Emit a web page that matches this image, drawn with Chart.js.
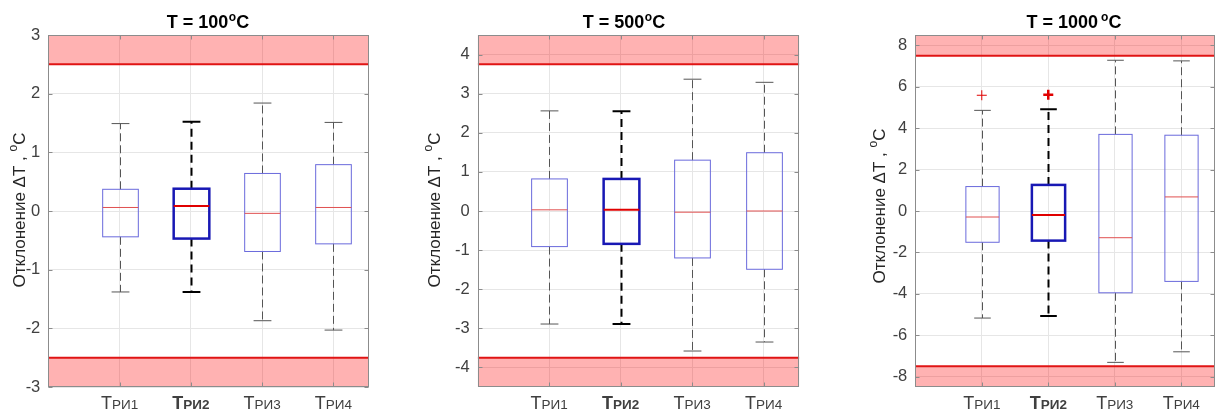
<!DOCTYPE html>
<html>
<head>
<meta charset="utf-8">
<script src="https://cdn.jsdelivr.net/npm/chart.js@4.4.1/dist/chart.umd.min.js"></script>
<style>
  html, body { margin: 0; padding: 0; background: #fff; }
  #wrap { position: relative; width: 1222px; height: 412px; overflow: hidden; }
  #wrap canvas { position: absolute; top: 0; }
</style>
</head>
<body>
<div id="wrap">
  <canvas id="c100" width="405" height="412" style="left:0px"></canvas>
  <canvas id="c500" width="405" height="412" style="left:405px"></canvas>
  <canvas id="c1000" width="412" height="412" style="left:810px"></canvas>
</div>
<script>
// ============================================
// Box plots of ΔT deviation for three temperatures
// ============================================

const categories = ['РИ1', 'РИ2', 'РИ3', 'РИ4'];
const temps = [100, 500, 1000];

// y axis ranges, tick values and tolerance limits (±)
const yMin = [-3, -4.5, -8.5];
const yMax = [3, 4.5, 8.5];
const ticks100 = [-3, -2, -1, 0, 1, 2, 3];
const ticks500 = [-4, -3, -2, -1, 0, 1, 2, 3, 4];
const ticks1000 = [-8, -6, -4, -2, 0, 2, 4, 6, 8];
const limits = [2.5, 3.75, 7.5];

// T = 100
const low100 = [-1.38, -1.38, -1.87, -2.03];
const q1_100 = [-0.44, -0.47, -0.69, -0.56];
const med100 = [0.06, 0.085, -0.04, 0.06];
const q3_100 = [0.37, 0.38, 0.64, 0.79];
const high100 = [1.49, 1.52, 1.84, 1.51];
const out100 = [null, null, null, null];

// T = 500
const low500 = [-2.89, -2.89, -3.58, -3.35];
const q1_500 = [-0.91, -0.84, -1.20, -1.49];
const med500 = [0.03, 0.03, -0.03, 0.0];
const q3_500 = [0.82, 0.82, 1.30, 1.49];
const high500 = [2.56, 2.55, 3.37, 3.29];
const out500 = [null, null, null, null];

// T = 1000
const low1000 = [-5.17, -5.07, -7.31, -6.80];
const q1_1000 = [-1.51, -1.43, -3.95, -3.40];
const med1000 = [-0.29, -0.19, -1.29, 0.68];
const q3_1000 = [1.18, 1.26, 3.70, 3.66];
const high1000 = [4.86, 4.91, 7.28, 7.25];
const out1000 = [5.59, 5.62, null, null];

const stats = [
  { low: low100, q1: q1_100, med: med100, q3: q3_100, high: high100, out: out100, ticks: ticks100 },
  { low: low500, q1: q1_500, med: med500, q3: q3_500, high: high500, out: out500, ticks: ticks500 },
  { low: low1000, q1: q1_1000, med: med1000, q3: q3_1000, high: high1000, out: out1000, ticks: ticks1000 }
];

// layout of each panel (canvas-relative pixels)
const frames = [
  { id: 'c100', w: 405, left: 48.3, right: 369, titleX: 208, yTitleX: 19, yTitleY: 210 },
  { id: 'c500', w: 405, left: 72.7, right: 394.3, titleX: 219, yTitleX: 29, yTitleY: 210 },
  { id: 'c1000', w: 412, left: 105.3, right: 407.3, titleX: 264, yTitleX: 69, yTitleY: 206 }
];
const TOP = 35, BOTTOM = 387, H = 412;
const FONT = '"Liberation Sans", Arial, sans-serif';
const BOLD_IDX = 1;

function drawRich(ctx, parts, x, y, align) {
  let total = 0;
  parts.forEach(p => { ctx.font = p.font; p.w = ctx.measureText(p.text).width; total += p.w + (p.gap || 0); });
  let cx = align === 'center' ? x - total / 2 : x;
  parts.forEach(p => {
    ctx.font = p.font;
    ctx.fillText(p.text, cx + (p.gap || 0), y + (p.dy || 0));
    cx += p.w + (p.gap || 0);
  });
}

function line(ctx, x1, y1, x2, y2) {
  ctx.beginPath(); ctx.moveTo(x1, y1); ctx.lineTo(x2, y2); ctx.stroke();
}

const boxPlugin = {
  id: 'boxes',
  beforeDatasetsDraw(chart, args, opts) {
    const { ctx, chartArea: a, scales: { x, y } } = chart;
    const s = opts.stats, lim = opts.limit;
    ctx.save();
    ctx.beginPath(); ctx.rect(a.left, a.top, a.width, a.height); ctx.clip();

    // tolerance bands
    const yUp = y.getPixelForValue(lim), yDn = y.getPixelForValue(-lim);
    ctx.fillStyle = 'rgba(255,0,0,0.3)';
    ctx.fillRect(a.left, a.top, a.width, yUp - a.top);
    ctx.fillRect(a.left, yDn, a.width, a.bottom - yDn);
    ctx.strokeStyle = '#e01414'; ctx.lineWidth = 2;
    line(ctx, a.left, yUp, a.right, yUp);
    line(ctx, a.left, yDn, a.right, yDn);

    categories.forEach((c, i) => {
      const bold = i === BOLD_IDX;
      const cx = Math.round(x.getPixelForValue(i + 1)) + 0.5;
      const hw = x.getPixelForValue(i + 1.25) - x.getPixelForValue(i + 1);
      const cw = hw / 2;
      const pLow = y.getPixelForValue(s.low[i]), pHigh = y.getPixelForValue(s.high[i]);
      const pQ1 = y.getPixelForValue(s.q1[i]), pQ3 = y.getPixelForValue(s.q3[i]);
      const pMed = y.getPixelForValue(s.med[i]);

      // whiskers
      ctx.strokeStyle = bold ? '#000' : '#555';
      ctx.lineWidth = bold ? 2 : 1;
      ctx.setLineDash(bold ? [8, 5] : [8, 4]);
      line(ctx, cx, pQ3, cx, pHigh);
      line(ctx, cx, pQ1, cx, pLow);
      ctx.setLineDash([]);
      line(ctx, cx - cw, pHigh, cx + cw, pHigh);
      line(ctx, cx - cw, pLow, cx + cw, pLow);

      // box
      ctx.strokeStyle = bold ? '#1818b4' : '#6a6adc';
      ctx.lineWidth = bold ? 2.5 : 1;
      ctx.strokeRect(cx - hw, pQ3, hw * 2, pQ1 - pQ3);

      // median
      ctx.strokeStyle = bold ? '#e00000' : '#e05050';
      ctx.lineWidth = bold ? 2 : 1;
      line(ctx, cx - hw, pMed, cx + hw, pMed);
    });
    ctx.restore();
  },
  afterDraw(chart, args, opts) {
    const { ctx, chartArea: a, scales: { x, y } } = chart;
    ctx.save();
    // axes box and inner tick marks
    ctx.strokeStyle = '#8c8c8c'; ctx.lineWidth = 1;
    const L = Math.round(a.left) + 0.5, R = Math.round(a.right) - 0.5;
    const T = Math.round(a.top) + 0.5, B = Math.round(a.bottom) - 0.5;
    ctx.strokeRect(L, T, R - L, B - T);
    const tl = 4;
    x.ticks.forEach(t => {
      const px = Math.round(x.getPixelForValue(t.value)) + 0.5;
      line(ctx, px, B, px, B - tl); line(ctx, px, T, px, T + tl);
    });
    y.ticks.forEach(t => {
      const py = Math.round(y.getPixelForValue(t.value)) + 0.5;
      line(ctx, L, py, L + tl, py); line(ctx, R, py, R - tl, py);
    });

    // x tick labels
    ctx.fillStyle = '#404040';
    ctx.textBaseline = 'alphabetic';
    categories.forEach((c, i) => {
      const w = i === BOLD_IDX ? 'bold ' : '';
      drawRich(ctx, [
        { text: 'T', font: w + '18px ' + FONT },
        { text: c, font: w + '13.5px ' + FONT }
      ], x.getPixelForValue(i + 1), 409, 'center');
    });

    // title
    ctx.fillStyle = '#000';
    drawRich(ctx, [
      { text: 'T = ' + opts.temp, font: 'bold 18px ' + FONT },
      { text: 'o', font: 'bold 12px ' + FONT, dy: -7, gap: opts.temp >= 1000 ? 3 : 0.5 },
      { text: 'C', font: 'bold 18px ' + FONT }
    ], opts.titleX, 28, 'center');

    // y title
    ctx.fillStyle = '#262626';
    ctx.translate(opts.yTitleX, opts.yTitleY);
    ctx.rotate(-Math.PI / 2);
    drawRich(ctx, [
      { text: 'Отклонение ΔT , ', font: '17px ' + FONT },
      { text: 'o', font: '12px ' + FONT, dy: -8 },
      { text: 'C', font: '17px ' + FONT }
    ], 0, 6, 'center');
    ctx.restore();
  }
};

frames.forEach((f, k) => {
  const s = stats[k];
  const outliers = [];
  s.out.forEach((v, i) => { if (v !== null) outliers.push({ x: i + 1, y: v }); });

  new Chart(document.getElementById(f.id), {
    type: 'scatter',
    data: {
      datasets: [{
        data: outliers,
        pointStyle: 'cross',
        pointRadius: 5,
        borderColor: '#e00000',
        pointBorderWidth: c => (c.raw && c.raw.x === BOLD_IDX + 1 ? 2.5 : 1)
      }]
    },
    options: {
      responsive: false,
      animation: false,
      layout: { padding: { left: 0, right: f.w - f.right, top: TOP, bottom: H - BOTTOM } },
      plugins: {
        legend: { display: false },
        tooltip: { enabled: false },
        boxes: { stats: s, limit: limits[k], temp: temps[k], titleX: f.titleX, yTitleX: f.yTitleX, yTitleY: f.yTitleY }
      },
      scales: {
        x: {
          type: 'linear', min: 0, max: 4.5,
          afterBuildTicks: sc => { sc.ticks = categories.map((c, i) => ({ value: i + 1 })); },
          afterFit: sc => { sc.height = 0; },
          ticks: { display: false },
          grid: { color: '#e6e6e6', drawTicks: false },
          border: { display: false }
        },
        y: {
          min: yMin[k], max: yMax[k],
          afterBuildTicks: sc => { sc.ticks = s.ticks.map(v => ({ value: v })); },
          afterFit: sc => { sc.width = f.left; },
          ticks: { color: '#404040', padding: 8, font: { family: FONT, size: 16.5 } },
          grid: { color: '#e6e6e6', drawTicks: false },
          border: { display: false }
        }
      }
    },
    plugins: [boxPlugin]
  });
});
</script>
</body>
</html>
